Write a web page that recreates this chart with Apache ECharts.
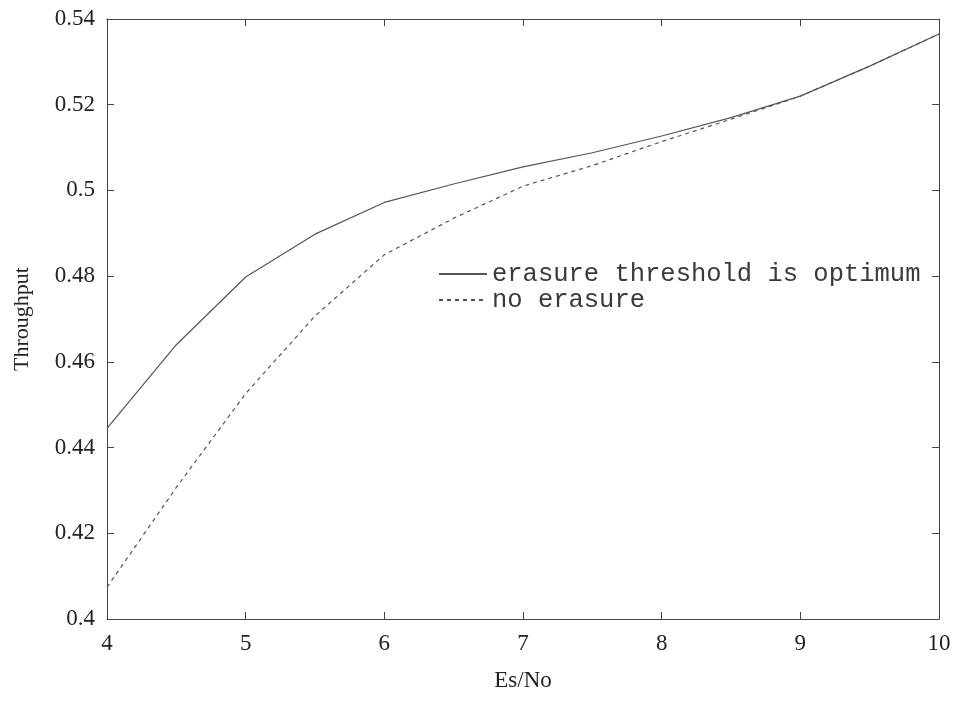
<!DOCTYPE html>
<html><head><meta charset="utf-8">
<script src="https://cdn.jsdelivr.net/npm/echarts@6/dist/echarts.min.js"></script>
<style>html,body{margin:0;padding:0;background:#fff}#c{width:961px;height:701px}</style>
</head><body><div id="c"></div>
<script>
const esNo = [4, 4.5, 5, 5.5, 6, 6.5, 7, 7.5, 8, 8.5, 9, 9.5, 10];
const optimumThreshold = [0.4445, 0.4640, 0.4798, 0.4898, 0.4972, 0.5015, 0.5055, 0.5088, 0.5127, 0.5170, 0.5220, 0.5290, 0.5365];
const noErasure = [0.4074, 0.4307, 0.4526, 0.4707, 0.4850, 0.4935, 0.5010, 0.5058, 0.5114, 0.5166, 0.5220, 0.5290, 0.5365];
const seriesNames = ['erasure threshold is optimum', 'no erasure'];

const axisColor = '#444';
const labelFont = {fontFamily: 'Liberation Serif', fontSize: 23, color: '#222'};
const chart = echarts.init(document.getElementById('c'));
const pair = (xs, ys) => xs.map((x, i) => [x, ys[i]]);
chart.setOption({
  animation: false,
  backgroundColor: '#fff',
  grid: {left: 107, right: 22, top: 19, bottom: 82},
  legend: {
    orient: 'vertical', left: 433, top: 256, itemWidth: 48, itemHeight: 14, itemGap: 0,
    itemStyle: {opacity: 0},
    textStyle: {fontFamily: 'Liberation Mono', fontSize: 25.5, color: '#3a3a3a'},
    data: seriesNames
  },
  xAxis: [{
    type: 'value', min: 4, max: 10, interval: 1, position: 'bottom',
    name: 'Es/No', nameLocation: 'middle', nameGap: 50,
    nameTextStyle: {fontFamily: 'Liberation Serif', fontSize: 23, color: '#222'},
    axisLine: {show: true, lineStyle: {color: axisColor, width: 1}},
    axisTick: {show: true, inside: true, length: 7, lineStyle: {color: axisColor}},
    axisLabel: Object.assign({margin: 13}, labelFont),
    splitLine: {show: false}
  }, {
    type: 'value', min: 4, max: 10, interval: 1, position: 'top',
    axisLine: {show: true, lineStyle: {color: axisColor, width: 1}},
    axisTick: {show: true, inside: true, length: 7, lineStyle: {color: axisColor}},
    axisLabel: {show: false}, splitLine: {show: false}
  }],
  yAxis: [{
    type: 'value', min: 0.4, max: 0.54, interval: 0.02, position: 'left',
    name: 'Throughput', nameLocation: 'middle', nameGap: 74, nameRotate: 90,
    nameTextStyle: {fontFamily: 'Liberation Serif', fontSize: 22, color: '#222'},
    axisLine: {show: true, lineStyle: {color: axisColor, width: 1}},
    axisTick: {show: true, inside: true, length: 7, lineStyle: {color: axisColor}},
    axisLabel: Object.assign({margin: 12}, labelFont),
    splitLine: {show: false}
  }, {
    type: 'value', min: 0.4, max: 0.54, interval: 0.02, position: 'right',
    axisLine: {show: true, lineStyle: {color: axisColor, width: 1}},
    axisTick: {show: true, inside: true, length: 7, lineStyle: {color: axisColor}},
    axisLabel: {show: false}, splitLine: {show: false}
  }],
  series: [{
    name: seriesNames[0], type: 'line', symbol: 'none',
    lineStyle: {color: '#555', width: 1.2, type: 'solid'},
    itemStyle: {color: '#555'},
    data: pair(esNo, optimumThreshold)
  }, {
    name: seriesNames[1], type: 'line', symbol: 'none',
    lineStyle: {color: '#555', width: 1.2, type: [4, 4]},
    itemStyle: {color: '#555'},
    data: pair(esNo, noErasure)
  }]
});
</script></body></html>
